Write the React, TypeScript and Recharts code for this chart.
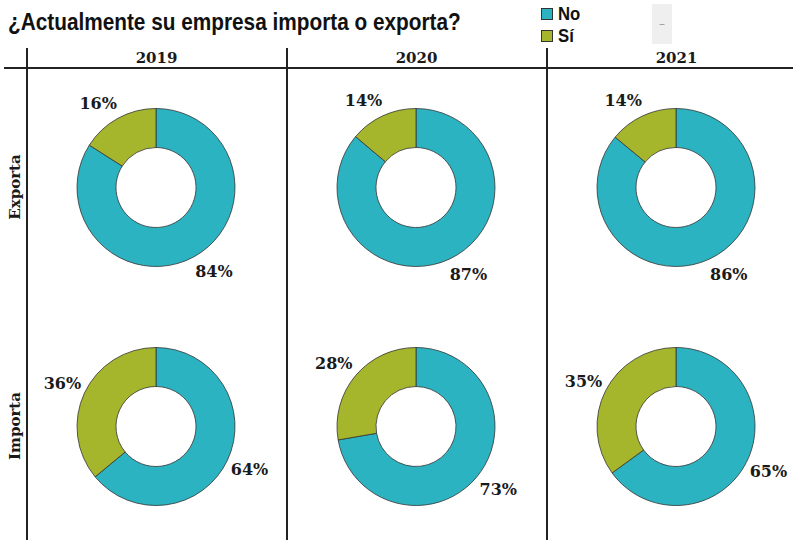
import React from 'react';
import { PieChart, Pie, Cell } from 'recharts';

const years = ['2019', '2020', '2021'];
const rows = ['Exporta', 'Importa'];
const categories = ['No', 'Sí'];
const colors = ['#2CB3C1', '#A5B62C'];

// values per year, [No, Sí]
const exportaValues = [
  [84, 16],
  [87, 14],
  [86, 14],
];
const importaValues = [
  [64, 36],
  [73, 28],
  [65, 35],
];

const RADIAN = Math.PI / 180;
const serif = '"DejaVu Serif", serif';
const sans = '"Liberation Sans", Arial, sans-serif';

// labels sit outside the ring, pushed sideways a bit near the top/bottom
const renderLabel = (props: any) => {
  const { cx, cy, midAngle, outerRadius, value } = props;
  const r = outerRadius + 22;
  const cos = Math.cos(-midAngle * RADIAN);
  const sin = Math.sin(-midAngle * RADIAN);
  const x = cx + r * cos + Math.sign(cos) * 12 * sin * sin;
  const y = cy + sin * (r - 6 * sin * sin);
  return (
    <text
      x={x}
      y={y}
      textAnchor="middle"
      dominantBaseline="central"
      fill="#1a1a1a"
      style={{ fontFamily: serif, fontWeight: 'bold', fontSize: '16px' }}
    >
      {value}%
    </text>
  );
};

const Donut: React.FC<{ values: number[] }> = ({ values }) => {
  const data = categories.map((name, i) => ({ name, value: values[i] }));
  return (
    <PieChart width={260} height={239}>
      <Pie
        data={data}
        dataKey="value"
        nameKey="name"
        cx="50%"
        cy="50%"
        innerRadius={40}
        outerRadius={79}
        startAngle={90}
        endAngle={-270}
        stroke="#333"
        strokeWidth={0.8}
        label={renderLabel}
        labelLine={false}
        isAnimationActive={false}
      >
        {data.map((d, i) => (
          <Cell key={d.name} fill={colors[i]} />
        ))}
      </Pie>
    </PieChart>
  );
};

const App: React.FC = () => {
  const allValues = [exportaValues, importaValues];
  return (
    <div
      style={{
        position: 'absolute',
        left: 0,
        top: 0,
        width: 793,
        height: 540,
        background: '#fff',
        overflow: 'hidden',
      }}
    >
      <div
        style={{
          position: 'absolute',
          left: 8,
          top: 8,
          fontFamily: sans,
          fontWeight: 'bold',
          fontSize: '24px',
          color: '#111',
          whiteSpace: 'nowrap',
          transform: 'scaleX(0.866)',
          transformOrigin: 'left center',
        }}
      >
        ¿Actualmente su empresa importa o exporta?
      </div>

      {categories.map((c, i) => (
        <div
          key={c}
          style={{
            position: 'absolute',
            left: 541,
            top: 3 + i * 22,
            display: 'flex',
            alignItems: 'center',
            fontFamily: sans,
            fontWeight: 'bold',
            fontSize: '19px',
            color: '#111',
          }}
        >
          <span
            style={{
              width: 10,
              height: 10,
              background: colors[i],
              border: '1px solid #333',
              marginRight: 5,
              display: 'inline-block',
            }}
          />
          <span style={{ display: 'inline-block', transform: 'scaleX(0.88)', transformOrigin: 'left center' }}>{c}</span>
        </div>
      ))}

      <div
        style={{
          position: 'absolute',
          left: 652,
          top: 4,
          width: 20,
          height: 40,
          background: '#efefef',
          color: '#999',
          fontSize: '10px',
          fontFamily: 'Roboto, sans-serif',
          display: 'flex',
          alignItems: 'center',
          justifyContent: 'center',
        }}
      >
        –
      </div>

      <div style={{ position: 'absolute', left: 4, top: 67, width: 789, height: 2, background: '#222' }} />
      {[26, 286, 546].map((x) => (
        <div key={x} style={{ position: 'absolute', left: x, top: 48, width: 2, height: 492, background: '#222' }} />
      ))}

      {years.map((y, j) => (
        <div
          key={y}
          style={{
            position: 'absolute',
            left: 27 + j * 260,
            top: 49,
            width: 259,
            textAlign: 'center',
            fontFamily: serif,
            fontWeight: 'bold',
            fontSize: '15px',
            color: '#1a1a1a',
          }}
        >
          {y}
        </div>
      ))}

      {rows.map((r, i) => (
        <div
          key={r}
          style={{
            position: 'absolute',
            left: 15,
            top: 187 + i * 239,
            transform: 'translate(-50%, -50%) rotate(-90deg)',
            fontFamily: serif,
            fontWeight: 'bold',
            fontSize: '15px',
            color: '#1a1a1a',
            whiteSpace: 'nowrap',
          }}
        >
          {r}
        </div>
      ))}

      {allValues.map((rowVals, i) =>
        rowVals.map((vals, j) => (
          <div
            key={`${i}-${j}`}
            style={{ position: 'absolute', left: 26 + j * 260, top: 68 + i * 239 }}
          >
            <Donut values={vals} />
          </div>
        ))
      )}
    </div>
  );
};

export default App;
